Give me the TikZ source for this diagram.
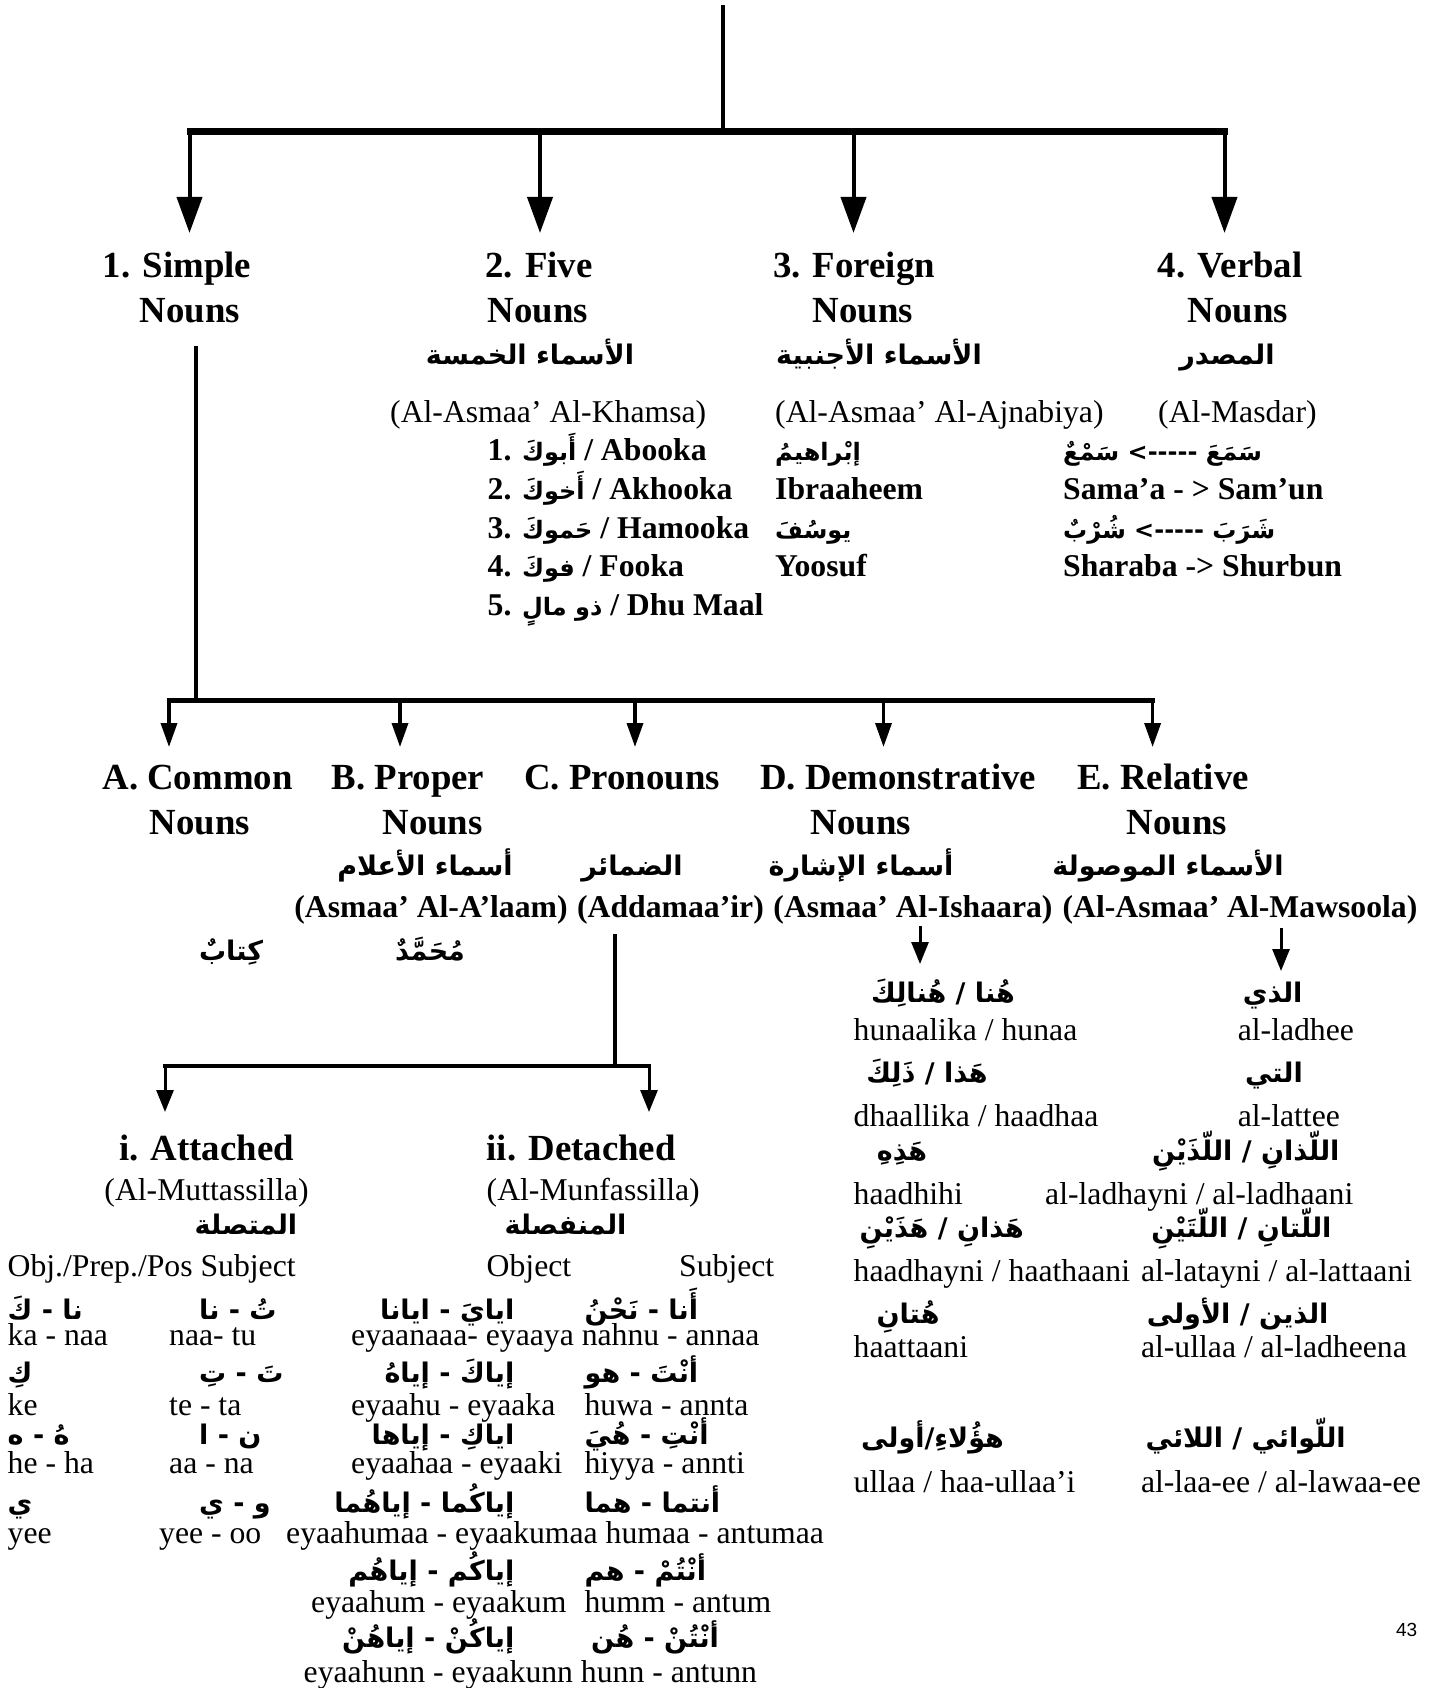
\documentclass[tikz,border=0pt]{standalone}
\usepackage{fontspec}
\usetikzlibrary{arrows.meta}
\setmainfont{Liberation Serif}
\newfontfamily\arfont[Script=Arabic]{DejaVu Sans}
\newfontfamily\pgfont{Liberation Sans}
\TeXXeTstate=1
\newcommand\artx[1]{{\arfont\bfseries\fontsize{27}{30}\selectfont\beginR #1\endR}}
\newcommand\artxs[1]{{\arfont\bfseries\fontsize{24}{28}\selectfont\beginR #1\endR}}
\tikzset{
  hd/.style={font=\fontsize{36.8}{40}\selectfont\bfseries, anchor=base, inner sep=0pt},
  bd/.style={font=\fontsize{31.7}{36}\selectfont\bfseries, anchor=base, inner sep=0pt},
  rg/.style={font=\fontsize{31.7}{36}\selectfont, anchor=base, inner sep=0pt},
  ar/.style={anchor=base, inner sep=0pt},
  bigarr/.style={line width=4pt, -{Triangle[length=36pt,width=25pt]}},
  midarr/.style={line width=3.5pt, -{Triangle[length=24pt,width=16pt]}},
  smallarr/.style={line width=3pt, -{Triangle[length=22pt,width=17pt]}},
  thickbar/.style={line width=7pt},
  midbar/.style={line width=5pt},
  stem/.style={line width=4pt},
}
\begin{document}
\begin{tikzpicture}[x=1pt,y=-1pt]
\useasboundingbox (0,0) rectangle (1440,1688);

% ---------- level 1 connectors
\coordinate (top) at (723,5);
\coordinate (hub) at (723,132);
\coordinate (bL) at (187,132);
\coordinate (bR) at (1228,132);
\coordinate (b1) at (189.5,132); \coordinate (t1) at (189.5,233);
\coordinate (b2) at (540,132); \coordinate (t2) at (540,233);
\coordinate (b3) at (853.5,132); \coordinate (t3) at (853.5,233);
\coordinate (b4) at (1224.5,132); \coordinate (t4) at (1224.5,233);
\draw[stem] (top) -- (hub);
\draw[thickbar] (bL) -- (bR);
\draw[bigarr] (b1) -- (t1);
\draw[bigarr] (b2) -- (t2);
\draw[bigarr] (b3) -- (t3);
\draw[bigarr] (b4) -- (t4);

% ---------- level 1 headings
\node[hd] (h1a) at (177,277) {1. Simple};
\node[hd] (h1b) at (190,322) {Nouns};
\node[hd] (h2a) at (539,277) {2. Five};
\node[hd] (h2b) at (538,322) {Nouns};
\node[hd] (h3a) at (854,277) {3. Foreign};
\node[hd] (h3b) at (863,322) {Nouns};
\node[hd] (h4a) at (1230,277) {4. Verbal};
\node[hd] (h4b) at (1238,322) {Nouns};

\node[ar] (a2) at (530,364) {\artx{الأسماء الخمسة}};
\node[ar] (a3) at (879,364) {\artx{الأسماء الأجنبية}};
\node[ar] (a4) at (1227,364) {\artx{المصدر}};

\node[rg, anchor=base west] (p2) at (390,422) {(Al-Asmaa’ Al-Khamsa)};
\node[rg, anchor=base west] (p3) at (775,422) {(Al-Asmaa’ Al-Ajnabiya)};
\node[rg, anchor=base west] (p4) at (1158,422) {(Al-Masdar)};

% five nouns list
\node[bd, anchor=base west] (f1) at (487.5,460.6) {1. \artxs{أَبوكَ} / Abooka};
\node[bd, anchor=base west] (f2) at (487.5,499.4) {2. \artxs{أَخوكَ} / Akhooka};
\node[bd, anchor=base west] (f3) at (487.5,538) {3. \artxs{حَموكَ} / Hamooka};
\node[bd, anchor=base west] (f4) at (487.5,576.8) {4. \artxs{فوكَ} / Fooka};
\node[bd, anchor=base west] (f5) at (487.5,615.6) {5. \artxs{ذو مالٍ} / Dhu Maal};

% foreign
\node[ar, anchor=base west] (g1) at (775,460.6) {\artxs{إبْراهيمُ}};
\node[bd, anchor=base west] (g2) at (775,499.4) {Ibraaheem};
\node[ar, anchor=base west] (g3) at (775,538) {\artxs{يوسُفَ}};
\node[bd, anchor=base west] (g4) at (775,576.8) {Yoosuf};

% verbal
\node[ar, anchor=base west] (v1) at (1063,460.6) {\artxs{سَمَعَ -----> سَمْعٌ}};
\node[bd, anchor=base west] (v2) at (1063,499.4) {Sama’a - > Sam’un};
\node[ar, anchor=base west] (v3) at (1063,538) {\artxs{شَرَبَ -----> شُرْبٌ}};
\node[bd, anchor=base west] (v4) at (1063,576.8) {Sharaba -> Shurbun};

% ---------- level 2 connectors
\coordinate (s1) at (196,346);
\coordinate (s2) at (196,700);
\coordinate (cL) at (167,700);
\coordinate (cR) at (1155,700);
\coordinate (c1) at (169,700); \coordinate (u1) at (169,747);
\coordinate (c2) at (400,700); \coordinate (u2) at (400,747);
\coordinate (c3) at (635,700); \coordinate (u3) at (635,747);
\coordinate (c4) at (883.5,700); \coordinate (u4) at (883.5,747);
\coordinate (c5) at (1152.6,700); \coordinate (u5) at (1152.6,747);
\draw[line width=3.5pt] (s1) -- (s2);
\draw[midbar] (cL) -- (cR);
\draw[midarr] (c1) -- (u1);
\draw[midarr] (c2) -- (u2);
\draw[midarr] (c3) -- (u3);
\draw[midarr] (c4) -- (u4);
\draw[midarr] (c5) -- (u5);

% level 2 headings
\node[hd] (k1a) at (197.5,789) {A. Common};
\node[hd] (k1b) at (200,834) {Nouns};
\node[hd] (k2a) at (408,789) {B. Proper};
\node[hd] (k2b) at (432.6,834) {Nouns};
\node[hd] (k3a) at (622,789) {C. Pronouns};
\node[hd] (k4a) at (898,789) {D. Demonstrative};
\node[hd] (k4b) at (861,834) {Nouns};
\node[hd] (k5a) at (1163,789) {E. Relative};
\node[hd] (k5b) at (1177,834) {Nouns};

\node[ar] (m2) at (425,875) {\artx{أسماء الأعلام}};
\node[ar] (m3) at (632,875) {\artx{الضمائر}};
\node[ar] (m4) at (861,875) {\artx{أسماء الإشارة}};
\node[ar] (m5) at (1168,875) {\artx{الأسماء الموصولة}};

\node[bd] (n2) at (431,917) {(Asmaa’ Al-A’laam)};
\node[bd] (n3) at (670.5,917) {(Addamaa’ir)};
\node[bd] (n4) at (913,917) {(Asmaa’ Al-Ishaara)};
\node[bd] (n5) at (1240,917) {(Al-Asmaa’ Al-Mawsoola)};

\node[ar] (e1) at (231,960) {\artx{كِتابٌ}};
\node[ar] (e2) at (430,960) {\artx{مُحَمَّدٌ}};

% demonstrative / relative arrows
\coordinate (d0) at (920,926); \coordinate (d1) at (920,964);
\coordinate (r0) at (1281,928); \coordinate (r1) at (1281,971);
\draw[smallarr] (d0) -- (d1);
\draw[smallarr] (r0) -- (r1);

% demonstrative list
\node[ar] (da1) at (943,1002) {\artx{هُنا / هُنالِكَ}};
\node[rg, anchor=base west] (dl1) at (853.5,1040.7) {hunaalika / hunaa};
\node[ar] (da2) at (927,1082.5) {\artx{هَذا / ذَلِكَ}};
\node[rg, anchor=base west] (dl2) at (853.5,1126.8) {dhaallika / haadhaa};
\node[ar] (da3) at (902,1160) {\artx{هَذِهِ}};
\node[rg, anchor=base west] (dl3) at (853.5,1204.3) {haadhihi};
\node[ar] (da4) at (941.7,1237.5) {\artx{هَذانِ / هَذَيْنِ}};
\node[rg, anchor=base west] (dl4) at (853.5,1281.8) {haadhayni / haathaani};
\node[ar] (da5) at (908,1323.5) {\artx{هُتانِ}};
\node[rg, anchor=base west] (dl5) at (853.5,1357) {haattaani};
\node[ar] (da6) at (932.5,1447.5) {\artx{هؤُلاءِ/أولى}};
\node[rg, anchor=base west] (dl6) at (853.5,1492.7) {ullaa / haa-ullaa’i};

% relative list
\node[ar] (ra1) at (1272.6,1002) {\artx{الذي}};
\node[rg, anchor=base west] (rl1) at (1237.6,1040.7) {al-ladhee};
\node[ar] (ra2) at (1274,1082.5) {\artx{التي}};
\node[rg, anchor=base west] (rl2) at (1237.6,1126.8) {al-lattee};
\node[ar] (ra3) at (1245.7,1160) {\artx{اللّذانِ / اللّذَيْنِ}};
\node[rg, anchor=base west] (rl3) at (1045,1204.3) {al-ladhayni / al-ladhaani};
\node[ar] (ra4) at (1241.4,1237.5) {\artx{اللّتانِ / اللّتَيْنِ}};
\node[rg, anchor=base west] (rl4) at (1140.8,1281.8) {al-latayni / al-lattaani};
\node[ar] (ra5) at (1237.6,1323.5) {\artx{الذين / الأولى}};
\node[rg, anchor=base west] (rl5) at (1140.8,1357) {al-ullaa / al-ladheena};
\node[ar] (ra6) at (1245.7,1447.5) {\artx{اللّوائي / اللائي}};
\node[rg, anchor=base west] (rl6) at (1140.8,1492.7) {al-laa-ee / al-lawaa-ee};

% ---------- pronoun branches
\coordinate (q0) at (614.5,934);
\coordinate (q1) at (614.5,1065.5);
\coordinate (qL) at (163,1065.5);
\coordinate (qR) at (651,1065.5);
\coordinate (w1) at (165,1065.5); \coordinate (z1) at (165,1112);
\coordinate (w2) at (649,1065.5); \coordinate (z2) at (649,1112);
\draw[stem] (q0) -- (q1);
\draw[stem] (qL) -- (qR);
\draw[smallarr] (w1) -- (z1);
\draw[smallarr] (w2) -- (z2);

% attached
\node[hd] (i1) at (206.6,1160) {i. Attached};
\node[rg] (i2) at (206.6,1200) {(Al-Muttassilla)};
\node[ar] (i3) at (246,1234) {\artx{المتصلة}};
\node[rg, anchor=base west] (i4) at (7.5,1276) {Obj./Prep./Pos Subject};

\node[ar, anchor=base west] (x1a) at (7.5,1319) {\artx{نا - كَ}};
\node[rg, anchor=base west] (x1l) at (7.5,1345) {ka - naa};
\node[ar, anchor=base west] (x2a) at (7.5,1382) {\artx{كِ}};
\node[rg, anchor=base west] (x2l) at (7.5,1415) {ke};
\node[ar, anchor=base west] (x3a) at (7.5,1444) {\artx{هُ - ه}};
\node[rg, anchor=base west] (x3l) at (7.5,1473) {he - ha};
\node[ar, anchor=base west] (x4a) at (7.5,1512) {\artx{ي}};
\node[rg, anchor=base west] (x4l) at (7.5,1543) {yee};

\node[ar, anchor=base west] (y1a) at (199,1319) {\artx{تُ - نا}};
\node[rg, anchor=base west] (y1l) at (169,1345) {naa- tu};
\node[ar, anchor=base west] (y2a) at (199,1382) {\artx{تَ - تِ}};
\node[rg, anchor=base west] (y2l) at (169,1415) {te - ta};
\node[ar, anchor=base west] (y3a) at (199,1444) {\artx{ن - ا}};
\node[rg, anchor=base west] (y3l) at (169,1473) {aa - na};
\node[ar, anchor=base west] (y4a) at (199,1512) {\artx{و - ي}};
\node[rg, anchor=base west] (y4l) at (159,1543) {yee - oo};

% detached
\node[hd, anchor=base west] (j1) at (486.5,1160) {ii. Detached};
\node[rg, anchor=base west] (j2) at (486.5,1200) {(Al-Munfassilla)};
\node[ar] (j3) at (565.5,1234) {\artx{المنفصلة}};
\node[rg, anchor=base west] (j4) at (486.5,1276) {Object};
\node[rg, anchor=base west] (j5) at (679,1276) {Subject};

\node[ar, anchor=base east] (o1) at (514.5,1319) {\artx{ايايَ - ايانا}};
\node[ar, anchor=base east] (o2) at (514.5,1382) {\artx{إياكَ - إياهُ}};
\node[ar, anchor=base east] (o3) at (514.5,1444) {\artx{اياكِ - إياها}};
\node[ar, anchor=base east] (o4) at (514.5,1512) {\artx{إياكُما - إياهُما}};
\node[ar, anchor=base east] (o5) at (514.5,1580) {\artx{إياكُم - إياهُم}};
\node[ar, anchor=base east] (o6) at (514.5,1647.5) {\artx{إياكُنْ - إياهُنْ}};

\node[ar, anchor=base west] (s1a) at (584.4,1319) {\artx{أَنا - نَحْنُ}};
\node[ar, anchor=base west] (s2a) at (584.4,1382) {\artx{أنْتَ - هو}};
\node[ar, anchor=base west] (s3a) at (584.4,1444) {\artx{أنْتِ - هُيَ}};
\node[ar, anchor=base west] (s4a) at (584.4,1512) {\artx{أنتما - هما}};
\node[ar, anchor=base west] (s5a) at (584.4,1580) {\artx{أنْتُمْ - هم}};
\node[ar, anchor=base west] (s6a) at (591,1647.5) {\artx{أنْتُنْ - هُن}};

\node[rg, anchor=base west] (l1) at (351,1345) {eyaanaaa- eyaaya nahnu - annaa};
\node[rg, anchor=base west] (l2o) at (351,1415) {eyaahu - eyaaka};
\node[rg, anchor=base west] (l2s) at (584.4,1415) {huwa - annta};
\node[rg, anchor=base west] (l3o) at (351,1473) {eyaahaa - eyaaki};
\node[rg, anchor=base west] (l3s) at (584.4,1473) {hiyya - annti};
\node[rg, anchor=base west] (l4) at (286,1543) {eyaahumaa - eyaakumaa humaa - antumaa};
\node[rg, anchor=base west] (l5o) at (311,1612) {eyaahum - eyaakum};
\node[rg, anchor=base west] (l5s) at (584.4,1612) {humm - antum};
\node[rg, anchor=base west] (l6) at (303.5,1682) {eyaahunn - eyaakunn hunn - antunn};

% page number
\node[font=\pgfont\fontsize{19}{22}\selectfont, inner sep=0pt] (pg) at (1406.6,1630.4) {43};
\end{tikzpicture}
\end{document}
